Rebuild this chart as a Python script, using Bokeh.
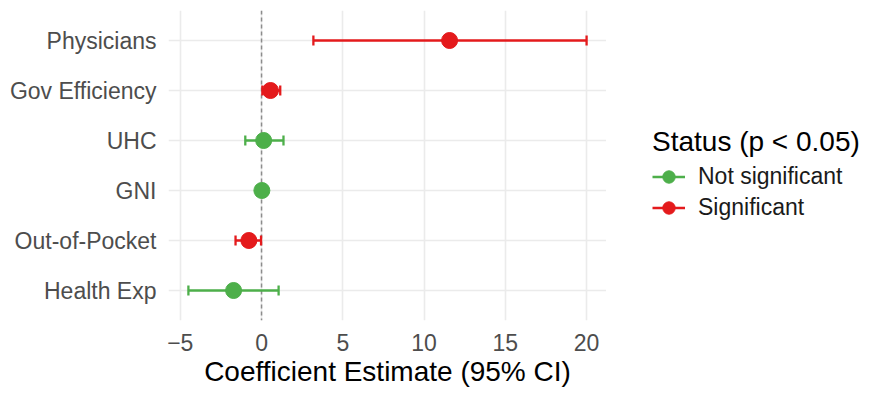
import numpy as np
from bokeh.plotting import figure
from bokeh.layouts import row
from bokeh.models import (ColumnDataSource, Range1d, FactorRange, Span, Legend,
                          LegendItem, FixedTicker)
from bokeh.transform import dodge
from bokeh.embed import file_html
from bokeh.resources import INLINE

# ---- data ----
predictors = ["Physicians", "Gov Efficiency", "UHC", "GNI", "Out-of-Pocket", "Health Exp"]
estimates = [11.57, 0.55, 0.13, 0.02, -0.78, -1.72]
ci_low = [3.19, 0.05, -1.00, -0.06, -1.60, -4.50]
ci_high = [20.00, 1.15, 1.35, 0.09, -0.03, 1.05]
significant = [True, True, False, False, True, False]
x_ticks = [-5, 0, 5, 10, 15, 20]
status_labels = ["Not significant", "Significant"]
status_colors = ["#4DAF4A", "#E41A1C"]
legend_title = "Status (p < 0.05)"
x_title = "Coefficient Estimate (95% CI)"

FONT = "Liberation Sans"

factors = list(reversed(predictors))
rng = max(ci_high) - min(ci_low)
x_start = min(ci_low) - 0.05 * rng
x_end = max(ci_high) + 0.05 * rng

TOP, BOTTOM = 10, 67

p = figure(width=606, height=389, output_backend="svg", toolbar_location=None,
           x_range=Range1d(x_start, x_end),
           y_range=FactorRange(factors=factors, range_padding=0.2 / len(factors)),
           min_border_left=168, min_border_right=0, min_border_top=TOP,
           min_border_bottom=BOTTOM)
p.outline_line_color = None
p.background_fill_color = "white"
p.border_fill_color = "white"

# grids
for g in (p.xgrid, p.ygrid):
    g.grid_line_color = "#EBEBEB"
    g.grid_line_width = 1.6
p.xaxis.ticker = FixedTicker(ticks=x_ticks)

# zero reference line
zero = Span(location=0, dimension="height", line_color="#8C8C8C",
            line_width=1.5, line_dash="4 3", level="underlay")
p.add_layout(zero)

for flag, color in zip([False, True], status_colors):
    idx = [i for i, s in enumerate(significant) if s == flag]
    src = ColumnDataSource(dict(
        name=[predictors[i] for i in idx],
        est=[estimates[i] for i in idx],
        lo=[ci_low[i] for i in idx],
        hi=[ci_high[i] for i in idx],
    ))
    p.segment(x0="lo", x1="hi", y0="name", y1="name", source=src,
              line_color=color, line_width=2.3)
    for col in ("lo", "hi"):
        p.segment(x0=col, x1=col,
                  y0=dodge("name", -0.1, range=p.y_range),
                  y1=dodge("name", 0.1, range=p.y_range),
                  source=src, line_color=color, line_width=2.3)
    p.scatter(x="est", y="name", source=src, size=16,
              fill_color=color, line_color=color)

# axes
for ax in (p.xaxis, p.yaxis):
    ax.axis_line_color = None
    ax.major_tick_line_color = None
    ax.minor_tick_line_color = None
    ax.major_tick_out = 0
    ax.major_tick_in = 0
    ax.major_label_text_font = FONT
    ax.major_label_text_font_size = "23px"
    ax.major_label_text_color = "#4D4D4D"
p.yaxis.major_label_standoff = 12
p.xaxis.major_label_standoff = 13
p.xaxis.axis_label = x_title
p.xaxis.axis_label_text_font = FONT
p.xaxis.axis_label_text_font_size = "28px"
p.xaxis.axis_label_text_font_style = "normal"
p.xaxis.axis_label_text_color = "#000000"
p.xaxis.axis_label_standoff = 2

# ---- legend panel ----
lf = figure(width=255, height=389, output_backend="svg", toolbar_location=None,
            x_range=Range1d(0, 1), y_range=Range1d(0, 1),
            min_border_left=0, min_border_top=TOP, min_border_right=0,
            min_border_bottom=BOTTOM, x_axis_type=None, y_axis_type=None)
lf.outline_line_color = None
lf.xgrid.visible = False
lf.ygrid.visible = False
items = []
for label, color in zip(status_labels, status_colors):
    # placeholder row (NaN) so the legend can draw its key glyph
    src = ColumnDataSource(dict(x=np.array([np.nan]), y=np.array([np.nan])))
    seg = lf.segment(x0="x", x1="x", y0="y", y1="y", source=src,
                     line_color=color, line_width=2.3)
    pt = lf.scatter(x="x", y="y", source=src, size=16,
                    fill_color=color, line_color=color)
    items.append(LegendItem(label=label, renderers=[seg, pt]))

legend = Legend(items=items, location=(46, 97), title=legend_title,
                title_text_font=FONT, title_text_font_size="28px",
                title_text_font_style="normal",
                title_text_color="#000000", title_standoff=3,
                label_text_font=FONT, label_text_font_size="23px",
                label_text_color="#1A1A1A",
                glyph_width=33, glyph_height=31, label_height=31,
                label_standoff=13, spacing=0, padding=0, margin=0,
                background_fill_alpha=0, border_line_color=None)
lf.add_layout(legend, "center")

layout = row(p, lf, spacing=0)
open("out.html", "w").write(file_html(layout, INLINE))
